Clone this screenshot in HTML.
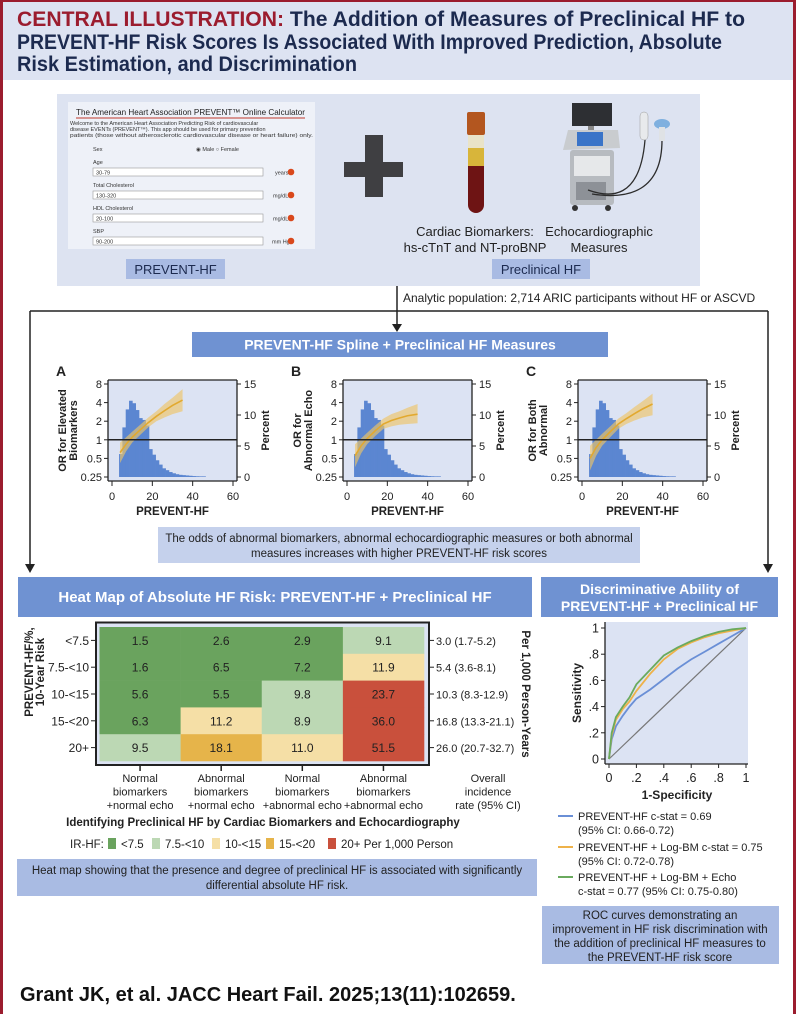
<!DOCTYPE html>
<html><head><meta charset="utf-8">
<style>
html,body{margin:0;padding:0;background:#fff;}
svg{display:block;}
text{font-family:"Liberation Sans Narrow","Liberation Sans",sans-serif;}
</style></head>
<body>
<svg id="root" width="796" height="1014" viewBox="0 0 796 1014" xmlns="http://www.w3.org/2000/svg">
  <rect x="0" y="0" width="796" height="80" fill="#dde3f2"/>
  <g font-weight="bold" font-size="21" fill="#1c2a4f">
    <text x="17" y="26" textLength="728" lengthAdjust="spacingAndGlyphs"><tspan fill="#9b1c2e">CENTRAL ILLUSTRATION:</tspan> The Addition of Measures of Preclinical HF to</text>
    <text x="17" y="49" textLength="705" lengthAdjust="spacingAndGlyphs">PREVENT-HF Risk Scores Is Associated With Improved Prediction, Absolute</text>
    <text x="17" y="71" textLength="340" lengthAdjust="spacingAndGlyphs">Risk Estimation, and Discrimination</text>
  </g>

  <rect x="57" y="94" width="643" height="192" fill="#dde3f1"/>
  <g>
    <rect x="68" y="102" width="247" height="147" fill="#eef1f8"/>
    <text x="76" y="115" font-size="8.5" fill="#222" textLength="229" lengthAdjust="spacingAndGlyphs">The American Heart Association PREVENT™ Online Calculator</text>
    <line x1="76" y1="118" x2="305" y2="118" stroke="#c0392b" stroke-width="1"/>
    <text x="70" y="125" font-size="5.5" fill="#333">Welcome to the American Heart Association Predicting Risk of cardiovascular</text>
    <text x="70" y="131" font-size="5.5" fill="#333">disease EVENTs (PREVENT™). This app should be used for primary prevention</text>
    <text x="70" y="137" font-size="5.5" fill="#333" textLength="243" lengthAdjust="spacingAndGlyphs">patients (those without atherosclerotic cardiovascular disease or heart failure) only.</text>
    <text x="93" y="151" font-size="5.5" fill="#333">Sex</text>
    <text x="196" y="151" font-size="5.5" fill="#333">◉ Male   ○ Female</text>
    <text x="93" y="164" font-size="5.5" fill="#333">Age</text>
    <rect x="93" y="168" width="170" height="8" fill="#fff" stroke="#999" stroke-width="0.6"/>
    <text x="96" y="174.5" font-size="5.5" fill="#333">30-79</text>
    <text x="275" y="174.5" font-size="5.5" fill="#333">years</text>
    <circle cx="291" cy="172" r="3.3" fill="#d9481c"/>
    <text x="93" y="187" font-size="5.5" fill="#333">Total Cholesterol</text>
    <rect x="93" y="191" width="170" height="8" fill="#fff" stroke="#999" stroke-width="0.6"/>
    <text x="96" y="197.5" font-size="5.5" fill="#333">130-320</text>
    <text x="273" y="197.5" font-size="5.5" fill="#333">mg/dL</text>
    <circle cx="291" cy="195" r="3.3" fill="#d9481c"/>
    <text x="93" y="210" font-size="5.5" fill="#333">HDL Cholesterol</text>
    <rect x="93" y="214" width="170" height="8" fill="#fff" stroke="#999" stroke-width="0.6"/>
    <text x="96" y="220.5" font-size="5.5" fill="#333">20-100</text>
    <text x="273" y="220.5" font-size="5.5" fill="#333">mg/dL</text>
    <circle cx="291" cy="218" r="3.3" fill="#d9481c"/>
    <text x="93" y="233" font-size="5.5" fill="#333">SBP</text>
    <rect x="93" y="237" width="170" height="8" fill="#fff" stroke="#999" stroke-width="0.6"/>
    <text x="96" y="243.5" font-size="5.5" fill="#333">90-200</text>
    <text x="272" y="243.5" font-size="5.5" fill="#333">mm Hg</text>
    <circle cx="291" cy="241" r="3.3" fill="#d9481c"/>
  </g>
  <g fill="#3f3f42">
    <rect x="365" y="135" width="18" height="62"/>
    <rect x="344" y="162" width="59" height="15"/>
  </g>
  <g>
    <rect x="468" y="133" width="16" height="80" rx="8" fill="#6e1414"/>
    <rect x="468" y="133" width="16" height="15" fill="#e9e3c8"/>
    <rect x="468" y="148" width="16" height="18" fill="#d8b53a"/>
    <rect x="467" y="112" width="18" height="23" rx="2" fill="#b3561f"/>
  </g>
  <g>
    <rect x="572" y="103" width="40" height="23" fill="#2d2f33"/>
    <rect x="588" y="126" width="6" height="5" fill="#888"/>
    <polygon points="563,150 568,130 618,130 620,148" fill="#c9cccf"/>
    <rect x="577" y="132" width="26" height="14" fill="#3a74c8"/>
    <rect x="570" y="150" width="44" height="55" rx="3" fill="#b7bbc0"/>
    <rect x="574" y="156" width="36" height="20" fill="#e6e8ea"/>
    <rect x="576" y="182" width="30" height="18" fill="#8d9197"/>
    <circle cx="575" cy="208" r="3" fill="#333"/><circle cx="608" cy="208" r="3" fill="#333"/>
    <path d="M588,190 C610,198 640,200 645,140 M592,194 C630,200 662,190 662,140" stroke="#2c2c2c" stroke-width="1.3" fill="none"/>
    <rect x="640" y="112" width="8" height="28" rx="4" fill="#e8eaec" stroke="#999" stroke-width="0.5"/>
    <ellipse cx="662" cy="124" rx="8" ry="5" fill="#7fb0df"/>
    <rect x="659" y="127" width="6" height="14" fill="#dfe2e5"/>
  </g>
  <g font-size="13" fill="#222" text-anchor="middle">
    <text x="475" y="236">Cardiac Biomarkers:</text>
    <text x="475" y="252">hs-cTnT and NT-proBNP</text>
    <text x="599" y="236">Echocardiographic</text>
    <text x="599" y="252">Measures</text>
  </g>
  <rect x="126" y="259" width="99" height="20" fill="#a9bbe3"/>
  <text x="175.5" y="274" font-size="13" text-anchor="middle" fill="#1c2a4f">PREVENT-HF</text>
  <rect x="492" y="259" width="98" height="20" fill="#a9bbe3"/>
  <text x="541" y="274" font-size="13" text-anchor="middle" fill="#1c2a4f">Preclinical HF</text>

  <g stroke="#222" stroke-width="1.5" fill="none">
    <line x1="397" y1="286" x2="397" y2="326"/>
    <line x1="30" y1="311" x2="768" y2="311"/>
    <line x1="30" y1="311" x2="30" y2="566"/>
    <line x1="768" y1="311" x2="768" y2="566"/>
  </g>
  <g fill="#222">
    <polygon points="392,324 402,324 397,332"/>
    <polygon points="25,564 35,564 30,573"/>
    <polygon points="763,564 773,564 768,573"/>
  </g>
  <text x="403" y="302" font-size="12" fill="#222">Analytic population: 2,714 ARIC participants without HF or ASCVD</text>

  <rect x="192" y="332" width="416" height="25" fill="#6f92d2"/>
  <text x="400" y="349.5" font-size="14" font-weight="bold" text-anchor="middle" fill="#fff">PREVENT-HF Spline + Preclinical HF Measures</text>

  <g id="splines"></g>

  <rect x="158" y="527" width="482" height="36" fill="#c5d1ec"/>
  <g font-size="11.5" text-anchor="middle" fill="#222">
    <text x="399" y="542">The odds of abnormal biomarkers, abnormal echocardiographic measures or both abnormal</text>
    <text x="399" y="557">measures increases with higher PREVENT-HF risk scores</text>
  </g>

  <rect x="18" y="577" width="514" height="40" fill="#6f92d2"/>
  <text x="275" y="602" font-size="15" font-weight="bold" text-anchor="middle" fill="#fff">Heat Map of Absolute HF Risk: PREVENT-HF + Preclinical HF</text>
  <g id="heatmap"></g>

  <text x="263" y="826" font-size="11.5" font-weight="bold" text-anchor="middle" fill="#222">Identifying Preclinical HF by Cardiac Biomarkers and Echocardiography</text>
  <g id="hmlegend" font-size="11.5" fill="#222"></g>

  <rect x="17" y="859" width="520" height="37" fill="#a9bbe3"/>
  <g font-size="11.5" text-anchor="middle" fill="#222">
    <text x="277" y="874">Heat map showing that the presence and degree of preclinical HF is associated with significantly</text>
    <text x="277" y="889">differential absolute HF risk.</text>
  </g>

  <rect x="541" y="577" width="237" height="40" fill="#6f92d2"/>
  <g font-size="14" font-weight="bold" text-anchor="middle" fill="#fff">
    <text x="659.5" y="594">Discriminative Ability of</text>
    <text x="659.5" y="611">PREVENT-HF + Preclinical HF</text>
  </g>
  <g id="roc"></g>
  <g id="roclegend" font-size="11" fill="#222"></g>
  <rect x="542" y="906" width="237" height="58" fill="#a9bbe3"/>
  <g font-size="11.5" text-anchor="middle" fill="#222">
    <text x="660" y="919">ROC curves demonstrating an</text>
    <text x="660" y="933">improvement in HF risk discrimination with</text>
    <text x="660" y="947">the addition of preclinical HF measures to</text>
    <text x="660" y="961">the PREVENT-HF risk score</text>
  </g>

  <text x="20" y="1001" font-size="20" font-weight="bold" fill="#111">Grant JK, et al. JACC Heart Fail. 2025;13(11):102659.</text>

  <rect x="0" y="0" width="3" height="1014" fill="#9b1c2e"/>
  <rect x="793" y="0" width="3" height="1014" fill="#9b1c2e"/>
  <rect x="0" y="0" width="796" height="2" fill="#9b1c2e"/>
</svg>
<script>
var NS="http://www.w3.org/2000/svg";
var panelLetters=["A","B","C"];
var panelYLabels=[["OR for Elevated","Biomarkers"],["OR for","Abnormal Echo"],["OR for Both","Abnormal"]];
var xTicks=[0,20,40,60];
var orTicks=[0.25,0.5,1,2,4,8];
var orTickLabels=["0.25","0.5","1","2","4","8"];
var pctTicks=[0,5,10,15];
var histStart=3.5, histWidth=1.65;
var histPct=[3.7,8,10.9,12.3,11.9,10.8,9.5,9.2,8.3,4.5,3.6,2.7,2.0,1.4,1.1,0.8,0.6,0.45,0.35,0.3,0.25,0.2,0.15,0.12,0.1,0.1];
var splineX=[4,7,10,14,18,22,26,30,35];
var splineOR=[
 [0.62,0.85,1.1,1.45,1.9,2.4,2.95,3.6,4.4],
 [0.55,0.8,1.05,1.4,1.8,2.05,2.25,2.45,2.6],
 [0.5,0.75,1.0,1.35,1.8,2.2,2.65,3.15,3.8]];
var splineLo=[
 [0.42,0.65,0.9,1.2,1.6,2.0,2.3,2.6,2.9],
 [0.36,0.6,0.85,1.15,1.5,1.65,1.75,1.8,1.85],
 [0.32,0.55,0.8,1.1,1.5,1.8,2.05,2.3,2.5]];
var splineHi=[
 [0.9,1.1,1.35,1.75,2.3,2.9,3.8,4.8,6.6],
 [0.85,1.05,1.3,1.7,2.2,2.6,2.9,3.3,3.8],
 [0.8,1.0,1.25,1.65,2.2,2.7,3.4,4.2,5.6]];

function el(tag,attrs,parent){var e=document.createElementNS(NS,tag);for(var k in attrs)e.setAttribute(k,attrs[k]);if(parent)parent.appendChild(e);return e;}
function txt(parent,x,y,s,attrs){var t=el("text",attrs||{},parent);t.setAttribute("x",x);t.setAttribute("y",y);t.textContent=s;return t;}

(function(){
 var g=document.getElementById("splines");
 for(var p=0;p<3;p++){
  var off=p*235, L=108+off, R=237+off, T=384, B=477;
  var xs=function(v){return L+4+v*(R-L-8)/60;};
  var ys=function(v){return T+(Math.log(8/v)/Math.LN2)*(B-T)/5;};
  var yp=function(v){return B-v*(B-T)/15;};
  var pg=el("g",{},g);
  
  
  var bg=el("rect",{x:L,y:T-4,width:R-L,height:B-T+8,fill:"#dce3f3"},pg);
  
  
  for(var i=0;i<histPct.length;i++){
   var x0=xs(histStart+i*histWidth), x1=xs(histStart+(i+1)*histWidth);
   var r=el("rect",{x:x0,y:yp(histPct[i]),width:x1-x0+0.3,height:B-yp(histPct[i]),fill:"#5b86d1"},pg);
   
   
  }
  var d="";
  for(i=0;i<splineX.length;i++)d+=(i?"L":"M")+xs(splineX[i])+","+ys(splineHi[p][i]);
  for(i=splineX.length-1;i>=0;i--)d+="L"+xs(splineX[i])+","+ys(splineLo[p][i]);
  var band=el("path",{d:d+"Z",fill:"#eec567","fill-opacity":"0.65"},pg);
  
  
  d="";
  for(i=0;i<splineX.length;i++)d+=(i?"L":"M")+xs(splineX[i])+","+ys(splineOR[p][i]);
  var ln=el("path",{d:d,fill:"none",stroke:"#e2a92f","stroke-width":"1.6"},pg);
  
  
  var ref=el("line",{x1:L,x2:R,y1:ys(1),y2:ys(1),stroke:"#222","stroke-width":"1.5"},pg);
  
  
  el("line",{x1:L,x2:L,y1:T-4,y2:B+4,stroke:"#222","stroke-width":"1.3"},pg);
  el("line",{x1:R,x2:R,y1:T-4,y2:B+4,stroke:"#222","stroke-width":"1.3"},pg);
  el("line",{x1:L,x2:R,y1:T-4,y2:T-4,stroke:"#222","stroke-width":"1.3"},pg);
  el("line",{x1:L,x2:R,y1:B+4,y2:B+4,stroke:"#222","stroke-width":"1.3"},pg);
  for(i=0;i<orTicks.length;i++){
   el("line",{x1:L-4,x2:L,y1:ys(orTicks[i]),y2:ys(orTicks[i]),stroke:"#222"},pg);
   var t=txt(pg,L-6,ys(orTicks[i])+4,orTickLabels[i],{"font-size":"11","text-anchor":"end",fill:"#222"});
   
   
  }
  for(i=0;i<pctTicks.length;i++){
   el("line",{x1:R,x2:R+4,y1:yp(pctTicks[i]),y2:yp(pctTicks[i]),stroke:"#222"},pg);
   var t2=txt(pg,R+7,yp(pctTicks[i])+4,String(pctTicks[i]),{"font-size":"11",fill:"#222"});
   
   
  }
  for(i=0;i<xTicks.length;i++){
   el("line",{x1:xs(xTicks[i]),x2:xs(xTicks[i]),y1:B+4,y2:B+9,stroke:"#222"},pg);
   var t3=txt(pg,xs(xTicks[i]),B+23,String(xTicks[i]),{"font-size":"11","text-anchor":"middle",fill:"#222"});
   
   
  }
  var xl=txt(pg,(L+R)/2,515,"PREVENT-HF",{"font-size":"11.5","font-weight":"bold","text-anchor":"middle",fill:"#222"});
  
  
  var lt=txt(pg,L-52,376,panelLetters[p],{"font-size":"14","font-weight":"bold",fill:"#222"});
  
  
  var yl=el("text",{transform:"translate("+(L-42)+","+((T+B)/2)+") rotate(-90)","font-size":"11","font-weight":"bold","text-anchor":"middle",fill:"#222"},pg);
  
  
  var a=el("tspan",{x:0,y:0},yl);a.textContent=panelYLabels[p][0];
  var b=el("tspan",{x:0,y:11},yl);b.textContent=panelYLabels[p][1];
  var pl=el("text",{transform:"translate("+(R+32)+","+((T+B)/2)+") rotate(-90)","font-size":"11","font-weight":"bold","text-anchor":"middle",fill:"#222"},pg);
  pl.textContent="Percent";
  
  
 }
})();

var hmRows=["<7.5","7.5-<10","10-<15","15-<20","20+"];
var hmCols=[["Normal","biomarkers","+normal echo"],["Abnormal","biomarkers","+normal echo"],["Normal","biomarkers","+abnormal echo"],["Abnormal","biomarkers","+abnormal echo"]];
var hmValues=[[1.5,2.6,2.9,9.1],[1.6,6.5,7.2,11.9],[5.6,5.5,9.8,23.7],[6.3,11.2,8.9,36.0],[9.5,18.1,11.0,51.5]];
var overallRate=["3.0 (1.7-5.2)","5.4 (3.6-8.1)","10.3 (8.3-12.9)","16.8 (13.3-21.1)","26.0 (20.7-32.7)"];
var bandLabels=["<7.5","7.5-<10","10-<15","15-<20","20+"];
var bandEdges=[7.5,10,15,20];
var bandColors=["#6aa35e","#bcd8b4","#f5dfa6","#e6b44a","#c9503c"];
function colorFor(v){for(var i=0;i<bandEdges.length;i++)if(v<bandEdges[i])return bandColors[i];return bandColors[4];}

(function(){
 var g=document.getElementById("heatmap");
 var L=99.5,R=424,T=627,B=761,cw=(R-L)/4,rh=(B-T)/5;
 el("rect",{x:96,y:622.5,width:333,height:142.5,fill:"#dce3f3",stroke:"#222","stroke-width":"2"},g);
 for(var r=0;r<5;r++){
  for(var c=0;c<4;c++){
   var v=hmValues[r][c];
   var cell=el("rect",{x:L+c*cw,y:T+r*rh,width:cw+0.3,height:rh+0.3,fill:colorFor(v)},g);
   
   
   var t=txt(g,L+c*cw+cw/2,T+r*rh+rh/2+4.5,v.toFixed(1),{"font-size":"12","text-anchor":"middle",fill:"#222"});
   
   
  }
  var cy=T+r*rh+rh/2;
  el("line",{x1:91,x2:96,y1:cy,y2:cy,stroke:"#222"},g);
  var rl=txt(g,89,cy+4.5,hmRows[r],{"font-size":"12","text-anchor":"end",fill:"#222"});
  
  
  el("line",{x1:429,x2:434,y1:cy,y2:cy,stroke:"#222"},g);
  var ol=txt(g,436,cy+4.5,overallRate[r],{"font-size":"11",fill:"#222"});
  
  
 }
 for(var c2=0;c2<4;c2++){
  var cx=L+c2*cw+cw/2;
  el("line",{x1:cx,x2:cx,y1:765,y2:771,stroke:"#222","stroke-width":"1.5"},g);
  for(var k=0;k<3;k++){
   var cl=txt(g,cx,782+k*13.5,hmCols[c2][k],{"font-size":"11","text-anchor":"middle",fill:"#222"});
   
   
  }
 }
 var ov=["Overall","incidence","rate (95% CI)"];
 for(k=0;k<3;k++){var o=txt(g,488,782+k*13.5,ov[k],{"font-size":"11","text-anchor":"middle",fill:"#222"});
  
  }
 var yt=el("text",{transform:"translate(33,672) rotate(-90)","font-size":"11.5","font-weight":"bold","text-anchor":"middle",fill:"#222"},g);
 
 
 var a=el("tspan",{x:0,y:0},yt);a.textContent="PREVENT-HF/%,";
 var b=el("tspan",{x:0,y:11},yt);b.textContent="10-Year Risk";
 var rt=el("text",{transform:"translate(522,694) rotate(90)","font-size":"11.5","font-weight":"bold","text-anchor":"middle",fill:"#222"},g);
 rt.textContent="Per 1,000 Person-Years";
 
 
 var lg=document.getElementById("hmlegend");
 txt(lg,70,848,"IR-HF:",{});
 var lx=[108,152,212,266,328];
 for(var i=0;i<5;i++){
  var sq=el("rect",{x:lx[i],y:838,width:8,height:11,fill:bandColors[i]},lg);
  
  
  var lt=txt(lg,lx[i]+13,848,bandLabels[i]+(i==4?"  Per 1,000 Person":""),{});
  
  
 }
})();

var rocFpr=[0,0.02,0.05,0.1,0.15,0.2,0.3,0.4,0.5,0.6,0.7,0.8,0.9,1];
var rocBlue=[0,0.15,0.25,0.33,0.4,0.46,0.53,0.61,0.69,0.76,0.82,0.88,0.94,1];
var rocOrange=[0,0.18,0.3,0.38,0.44,0.52,0.65,0.76,0.84,0.89,0.93,0.96,0.98,1];
var rocGreen=[0,0.2,0.32,0.4,0.47,0.57,0.68,0.79,0.85,0.9,0.94,0.97,0.99,1];
var rocTicks=[0,0.2,0.4,0.6,0.8,1];
var rocTickLabels=["0",".2",".4",".6",".8","1"];
var rocNames=[["PREVENT-HF c-stat = 0.69","(95% CI: 0.66-0.72)"],["PREVENT-HF + Log-BM c-stat = 0.75","(95% CI: 0.72-0.78)"],["PREVENT-HF + Log-BM + Echo","c-stat = 0.77 (95% CI: 0.75-0.80)"]];
var rocColors=["#6a8fd6","#eeb24a","#6aaa5e"];

(function(){
 var g=document.getElementById("roc");
 var x0=609,x1=746,y0=759,y1=628;
 var xs=function(v){return x0+v*(x1-x0);}, ys=function(v){return y0-v*(y0-y1);};
 el("rect",{x:605,y:622,width:143,height:142,fill:"#dce3f3"},g);
 el("line",{x1:605,x2:605,y1:622,y2:764,stroke:"#222","stroke-width":"1.3"},g);
 el("line",{x1:605,x2:748,y1:764,y2:764,stroke:"#222","stroke-width":"1.3"},g);
 el("line",{x1:xs(0),y1:ys(0),x2:xs(1),y2:ys(1),stroke:"#777","stroke-width":"1.2"},g);
 var series=[rocBlue,rocOrange,rocGreen];
 for(var s=0;s<3;s++){
  var d="";
  for(var i=0;i<rocFpr.length;i++)d+=(i?"L":"M")+xs(rocFpr[i]).toFixed(1)+","+ys(series[s][i]).toFixed(1);
  var p=el("path",{d:d,fill:"none",stroke:rocColors[s],"stroke-width":"1.8"},g);
  
  
 }
 for(i=0;i<rocTicks.length;i++){
  el("line",{x1:601,x2:605,y1:ys(rocTicks[i]),y2:ys(rocTicks[i]),stroke:"#222"},g);
  var t=txt(g,599,ys(rocTicks[i])+4.5,rocTickLabels[i],{"font-size":"12.5","text-anchor":"end",fill:"#222"});
  
  
  el("line",{x1:xs(rocTicks[i]),x2:xs(rocTicks[i]),y1:764,y2:768,stroke:"#222"},g);
  var t2=txt(g,xs(rocTicks[i]),782,rocTickLabels[i],{"font-size":"12.5","text-anchor":"middle",fill:"#222"});
  
  
 }
 var xt=txt(g,677,799,"1-Specificity",{"font-size":"12","font-weight":"bold","text-anchor":"middle",fill:"#222"});
 
 
 var yt=el("text",{transform:"translate(581,693) rotate(-90)","font-size":"12","font-weight":"bold","text-anchor":"middle",fill:"#222"},g);
 yt.textContent="Sensitivity";
 
 
 var lg=document.getElementById("roclegend");
 var ly=[816,847,877];
 for(s=0;s<3;s++){
  var ln=el("line",{x1:558,x2:573,y1:ly[s],y2:ly[s],stroke:rocColors[s],"stroke-width":"2"},lg);
  
  
  var a=txt(lg,578,ly[s]+4,rocNames[s][0],{});
  
  
  var b=txt(lg,578,ly[s]+18,rocNames[s][1],{});
  
  
 }
})();
</script>
</body></html>
